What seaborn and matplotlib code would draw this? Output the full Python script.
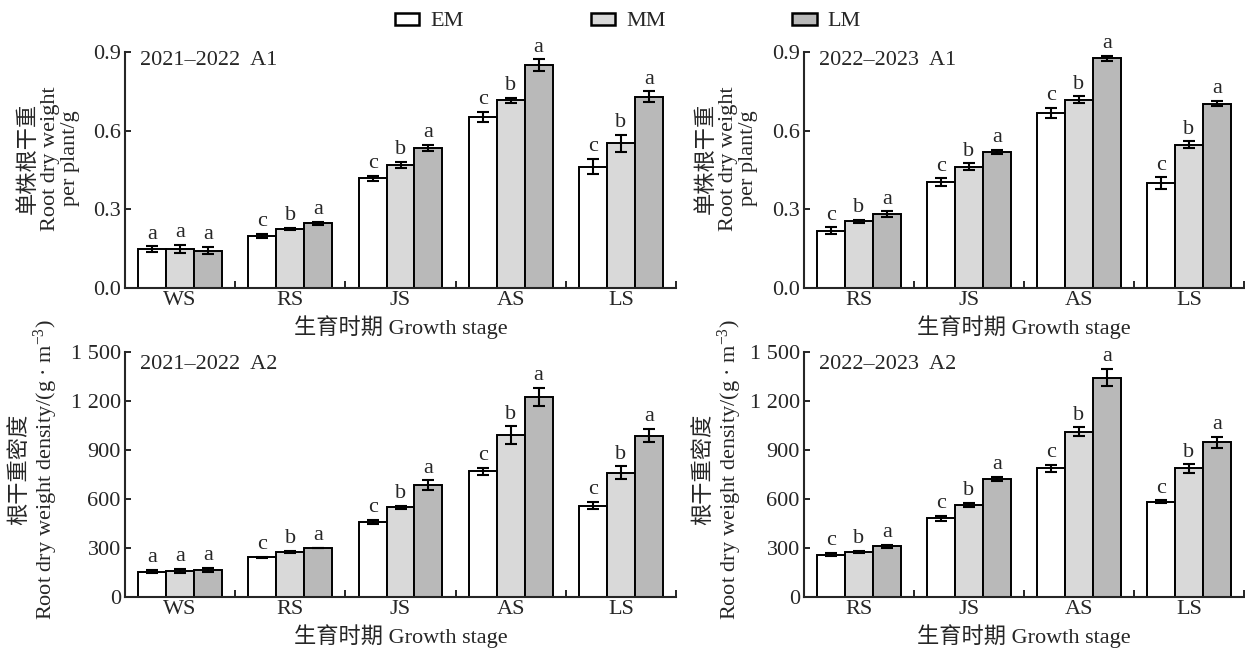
import numpy as np
import pandas as pd
import matplotlib
matplotlib.use("Agg")
import matplotlib.pyplot as plt
from matplotlib.ticker import FuncFormatter
import seaborn as sns

# ---------------------------------------------------------------- data
treatments = ["EM", "MM", "LM"]
stages_2122 = ["WS", "RS", "JS", "AS", "LS"]
stages_2223 = ["RS", "JS", "AS", "LS"]

# Root dry weight per plant (g)
a1_2122_mean = {"EM": [0.149, 0.197, 0.418, 0.652, 0.462],
                "MM": [0.148, 0.225, 0.468, 0.716, 0.552],
                "LM": [0.143, 0.247, 0.535, 0.850, 0.730]}
a1_2122_err = {"EM": [0.010, 0.008, 0.010, 0.019, 0.029],
               "MM": [0.015, 0.005, 0.012, 0.010, 0.032],
               "LM": [0.015, 0.005, 0.012, 0.022, 0.020]}
a1_2122_sig = {"EM": ["a", "c", "c", "c", "c"],
               "MM": ["a", "b", "b", "b", "b"],
               "LM": ["a", "a", "a", "a", "a"]}

a1_2223_mean = {"EM": [0.218, 0.403, 0.667, 0.400],
                "MM": [0.254, 0.462, 0.718, 0.547],
                "LM": [0.282, 0.518, 0.876, 0.703]}
a1_2223_err = {"EM": [0.013, 0.015, 0.020, 0.022],
               "MM": [0.007, 0.013, 0.013, 0.012],
               "LM": [0.010, 0.008, 0.010, 0.010]}
a1_2223_sig = {"EM": ["c", "c", "c", "c"],
               "MM": ["b", "b", "b", "b"],
               "LM": ["a", "a", "a", "a"]}

# Root dry weight density (g·m^-3)
a2_2122_mean = {"EM": [155, 242, 460, 770, 560],
                "MM": [160, 276, 548, 992, 762],
                "LM": [165, 300, 684, 1225, 988]}
a2_2122_err = {"EM": [10, 5, 12, 20, 20],
               "MM": [10, 5, 12, 53, 38],
               "LM": [12, 3, 30, 57, 42]}
a2_2122_sig = {"EM": ["a", "c", "c", "c", "c"],
               "MM": ["a", "b", "b", "b", "b"],
               "LM": ["a", "a", "a", "a", "a"]}

a2_2223_mean = {"EM": [258, 482, 787, 583],
                "MM": [274, 563, 1013, 787],
                "LM": [310, 722, 1343, 946]}
a2_2223_err = {"EM": [10, 15, 20, 8],
               "MM": [6, 15, 25, 25],
               "LM": [8, 12, 53, 35]}
a2_2223_sig = {"EM": ["c", "c", "c", "c"],
               "MM": ["b", "b", "b", "b"],
               "LM": ["a", "a", "a", "a"]}

bar_colors = ["#ffffff", "#d9d9d9", "#b9b9b9"]

# ---------------------------------------------------------------- style
sns.set_theme(style="ticks")
plt.rcParams["font.family"] = ["Liberation Serif", "Noto Sans CJK SC"]
plt.rcParams["mathtext.fontset"] = "custom"
plt.rcParams["mathtext.rm"] = "Liberation Serif"
plt.rcParams["mathtext.it"] = "Liberation Serif:italic"
plt.rcParams["axes.linewidth"] = 1.5
FS = 16

W, H = 1245, 651
fig = plt.figure(figsize=(W / 100, H / 100), dpi=100)


def px_axes(x0, x1, y_top, y_bot):
    return fig.add_axes([x0 / W, (H - y_bot) / H, (x1 - x0) / W, (y_bot - y_top) / H])


def draw_panel(ax, stages, mean, err, sig, ymax, yticks, fmt, title,
               ylabel, ylabel_px, ylabel_y, title_y):
    df = pd.DataFrame({
        "stage": np.repeat([stages], len(treatments), axis=0).ravel(),
        "treatment": np.repeat(treatments, len(stages)),
        "value": np.concatenate([mean[t] for t in treatments]),
    })
    sns.barplot(data=df, x="stage", y="value", hue="treatment",
                order=stages, hue_order=treatments, palette=bar_colors,
                width=0.76, gap=0, errorbar=None, edgecolor="black",
                linewidth=1.4, saturation=1, ax=ax, zorder=2)
    for cont, t in zip(ax.containers, treatments):
        for bar, e, s in zip(cont, err[t], sig[t]):
            xc = bar.get_x() + bar.get_width() / 2
            h = bar.get_height()
            ax.errorbar(xc, h, yerr=e, fmt="none", ecolor="black",
                        elinewidth=1.5, capsize=4, capthick=1.5, zorder=3)
            ax.annotate(s, (xc, h + e), xytext=(0, 2),
                        textcoords="offset points", ha="center", va="bottom",
                        fontsize=FS)
    n = len(stages)
    ax.set_xlim(-0.5, n - 0.5)
    ax.set_ylim(0, ymax)
    ax.set_yticks(yticks)
    ax.yaxis.set_major_formatter(FuncFormatter(fmt))
    ax.set_xticks(np.arange(0.5, n, 1.0), minor=True)
    ax.tick_params(axis="x", which="major", length=0, pad=2, labelsize=FS)
    ax.tick_params(axis="x", which="minor", direction="in", length=5, width=1.4)
    ax.tick_params(axis="y", direction="in", length=4.5, width=1.4, pad=3,
                   labelsize=FS)
    for side in ("top", "right"):
        ax.spines[side].set_visible(False)
    ax.get_legend().remove()
    ax.set_xlabel("生育时期 Growth stage", fontsize=FS, labelpad=4)
    ax.set_ylabel(ylabel, fontsize=FS, linespacing=1.1)
    width_px = ax.get_position().width * W
    ax.yaxis.set_label_coords(-ylabel_px / width_px, ylabel_y)
    ax.text(15 / width_px, title_y, title, transform=ax.transAxes,
            ha="left", va="center", fontsize=FS)


fmt_a1 = lambda v, p: f"{v:.1f}"
fmt_a2 = lambda v, p: f"{int(round(v)):,}".replace(",", " ")

ylab_a1 = "单株根干重\nRoot dry weight\nper plant/g"
ylab_a2 = "根干重密度\nRoot dry weight density/(g · $\\mathregular{m^{-3}}$)"

ax1 = px_axes(125, 676, 52, 288)
draw_panel(ax1, stages_2122, a1_2122_mean, a1_2122_err, a1_2122_sig,
           0.9, [0, 0.3, 0.6, 0.9], fmt_a1, "2021\u20132022  A1",
           ylab_a1, 45, 0.55, 0.965)

ax2 = px_axes(804, 1244, 52, 288)
draw_panel(ax2, stages_2223, a1_2223_mean, a1_2223_err, a1_2223_sig,
           0.9, [0, 0.3, 0.6, 0.9], fmt_a1, "2022\u20132023  A1",
           ylab_a1, 46, 0.55, 0.965)

ax3 = px_axes(125, 676, 352, 597)
draw_panel(ax3, stages_2122, a2_2122_mean, a2_2122_err, a2_2122_sig,
           1500, [0, 300, 600, 900, 1200, 1500], fmt_a2, "2021\u20132022  A2",
           ylab_a2, 65, 0.52, 0.947)

ax4 = px_axes(804, 1244, 352, 597)
draw_panel(ax4, stages_2223, a2_2223_mean, a2_2223_err, a2_2223_sig,
           1500, [0, 300, 600, 900, 1200, 1500], fmt_a2, "2022\u20132023  A2",
           ylab_a2, 60, 0.52, 0.947)

# shared legend across the top
handles = [plt.Rectangle((0, 0), 1, 1, facecolor=c, edgecolor="black",
                         linewidth=1.8) for c in bar_colors]
fig.legend(handles, treatments, ncol=3, loc="center",
           bbox_to_anchor=(628 / W, (H - 22) / H), frameon=False,
           fontsize=FS, handlelength=1.1, handleheight=0.45,
           handletextpad=0.5, columnspacing=5.7)

fig.savefig("out.png", dpi=100)
